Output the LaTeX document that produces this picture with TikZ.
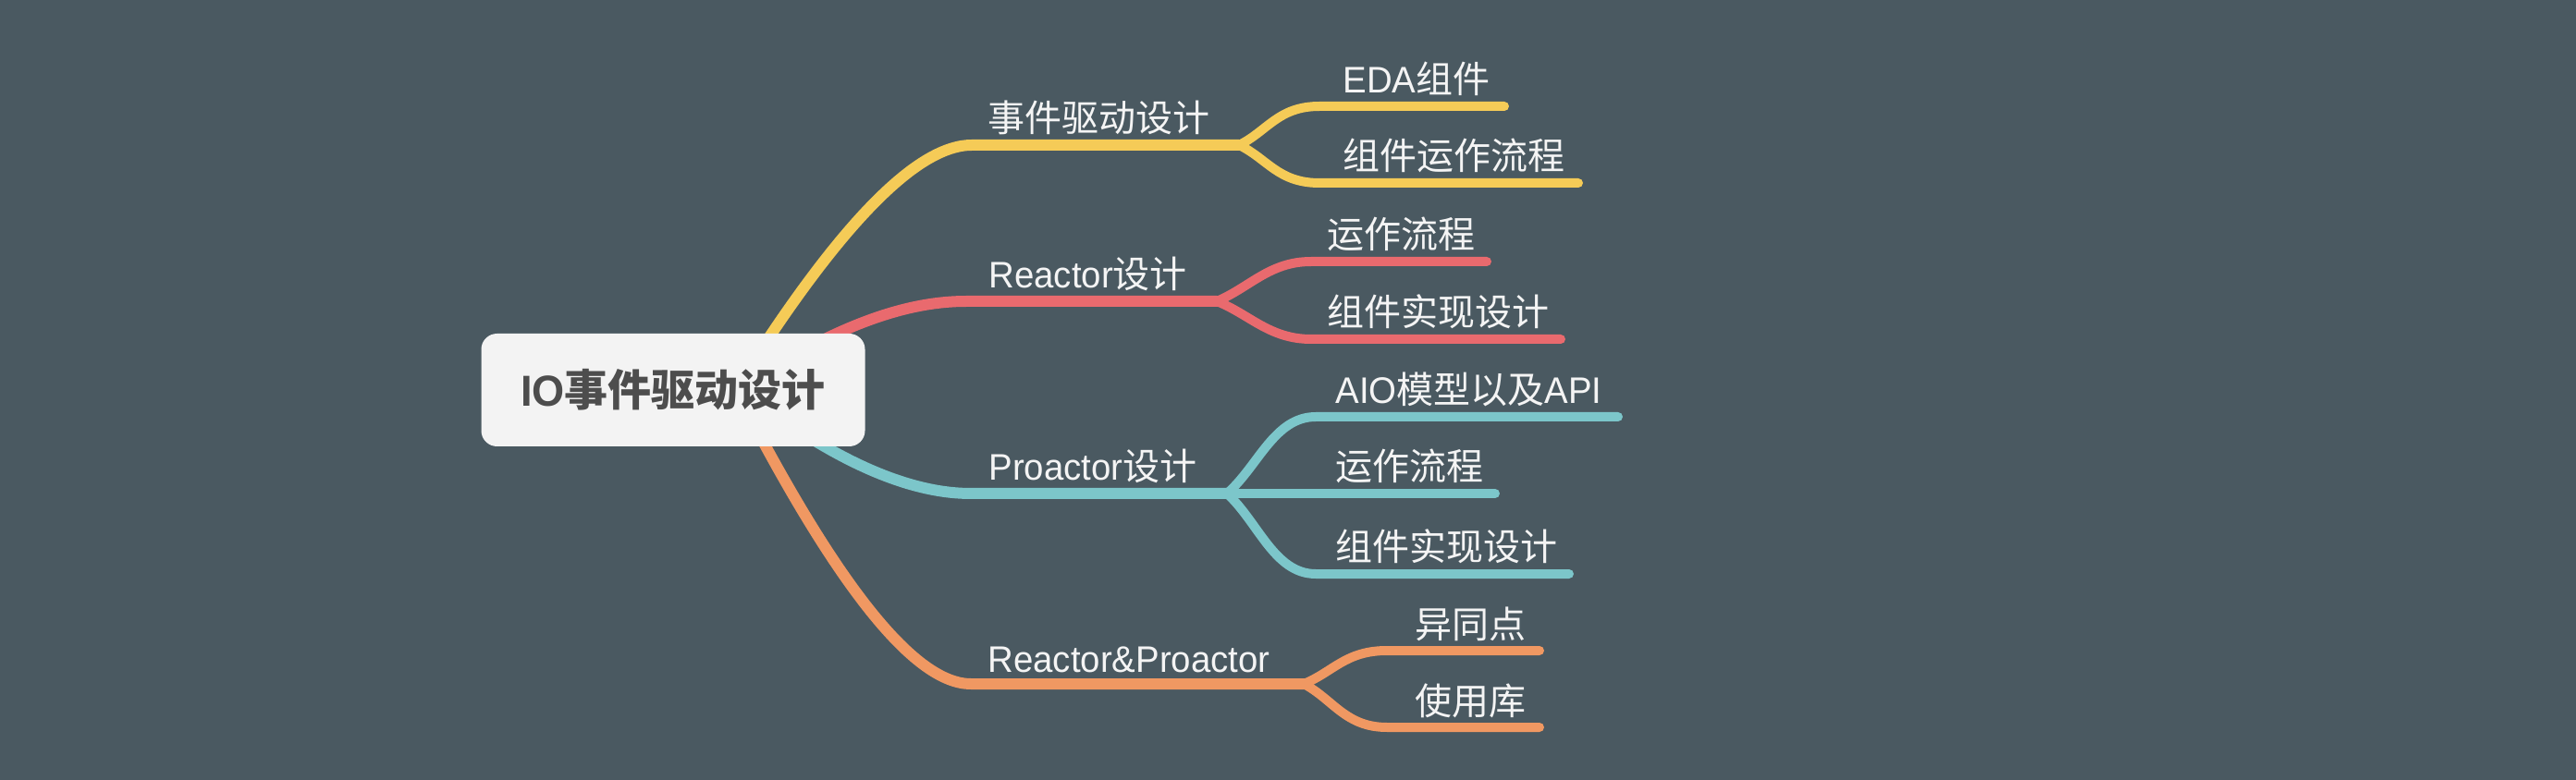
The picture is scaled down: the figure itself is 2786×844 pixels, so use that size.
\documentclass[tikz,border=0pt]{standalone}
\usepackage{fontspec}
\setmainfont{Noto Sans CJK SC}
\newfontfamily\latinfont[FakeStretch=0.96]{Liberation Sans}
\usepackage{tikz}
\usetikzlibrary{calc,positioning}

\definecolor{bgcol}{RGB}{74,89,97}
\definecolor{ybr}{RGB}{245,203,87}
\definecolor{rbr}{RGB}{233,106,110}
\definecolor{tbr}{RGB}{124,198,202}
\definecolor{obr}{RGB}{240,152,98}
\definecolor{rootfill}{RGB}{243,243,243}
\definecolor{roottext}{RGB}{77,77,77}
\definecolor{topictext}{RGB}{244,244,244}

\newcommand{\lat}[1]{{\latinfont #1}}

\begin{document}
\begin{tikzpicture}[
        x=0.5pt, y=-0.5pt,
        root/.style={
            fill=rootfill,
            rounded corners=8.5pt,
            minimum width=207.5pt,
            minimum height=61pt,
            text=roottext,
            font=\fontsize{23.5}{28}\selectfont\bfseries
        },
        topic/.style={
            anchor=base west,
            inner sep=0pt,
            text=topictext,
            font=\fontsize{20}{24}\selectfont
        },
        main/.style={line width=6pt, line cap=round},
        leaf/.style={line width=5pt, line cap=round}
    ]
        \fill[bgcol] (0,0) rectangle (2786,844);

        % branch points
        \coordinate (yS) at (790,430);  \coordinate (yM) at (1051,157); \coordinate (yF) at (1340,157);
        \coordinate (rS) at (840,395);  \coordinate (rM) at (1045,326); \coordinate (rF) at (1316,326);
        \coordinate (tS) at (840,450);  \coordinate (tM) at (1050,534); \coordinate (tF) at (1327,534);
        \coordinate (oS) at (800,430);  \coordinate (oM) at (1050,740); \coordinate (oF) at (1410,740);

        % leaf points
        \coordinate (y1) at (1427,115); \coordinate (y1e) at (1627,115);
        \coordinate (y2) at (1427,198); \coordinate (y2e) at (1707,198);
        \coordinate (r1) at (1418,283); \coordinate (r1e) at (1608,283);
        \coordinate (r2) at (1418,367); \coordinate (r2e) at (1688,367);
        \coordinate (t1) at (1423,451); \coordinate (t1e) at (1750,451);
        \coordinate (t2e) at (1617,534);
        \coordinate (t3) at (1423,621); \coordinate (t3e) at (1697,621);
        \coordinate (o1) at (1500,704); \coordinate (o1e) at (1665,704);
        \coordinate (o2) at (1500,787); \coordinate (o2e) at (1665,787);

        \draw[main, ybr] (yS) .. controls (903,248) and (990,157) .. (yM) -- (yF);
        \draw[main, rbr] (rS) .. controls (920,348) and (985,326) .. (rM) -- (rF);
        \draw[main, tbr] (tS) .. controls (920,506) and (990,534) .. (tM) -- (tF);
        \draw[main, obr] (oS) .. controls (907,637) and (990,740) .. (oM) -- (oF);

        \foreach \f/\s/\e/\c in {yF/y1/y1e/ybr,yF/y2/y2e/ybr,rF/r1/r1e/rbr,rF/r2/r2e/rbr,
                tF/t1/t1e/tbr,tF/t3/t3e/tbr,oF/o1/o1e/obr,oF/o2/o2e/obr} {
            \draw[leaf, \c] (\f) .. controls ($(\f)!0.35!(\s)$) and ([xshift=-22.5pt]\s) .. (\s) -- (\e);
        }
        \draw[leaf, tbr] (tF) -- (t2e);

        \node[root] (root) at (728,422) {\lat{IO}事件驱动设计};

        \node[topic] (evt) at (1068,143) {事件驱动设计};
        \node[topic] (rea) at (1069,312) {\lat{Reactor}设计};
        \node[topic] (pro) at (1069,520) {\lat{Proactor}设计};
        \node[topic] (cmp) at (1068,727) {\lat{Reactor\&Proactor}};

        \node[topic] (evt1) at (1452,101) {\lat{EDA}组件};
        \node[topic] (evt2) at (1452,184) {组件运作流程};
        \node[topic] (rea1) at (1435,269) {运作流程};
        \node[topic] (rea2) at (1435,353) {组件实现设计};
        \node[topic] (pro1) at (1444,437) {\lat{AIO}模型以及\lat{API}};
        \node[topic] (pro2) at (1444,520) {运作流程};
        \node[topic] (pro3) at (1444,607) {组件实现设计};
        \node[topic] (cmp1) at (1530,690) {异同点};
        \node[topic] (cmp2) at (1530,773) {使用库};
    \end{tikzpicture}
\end{document}
